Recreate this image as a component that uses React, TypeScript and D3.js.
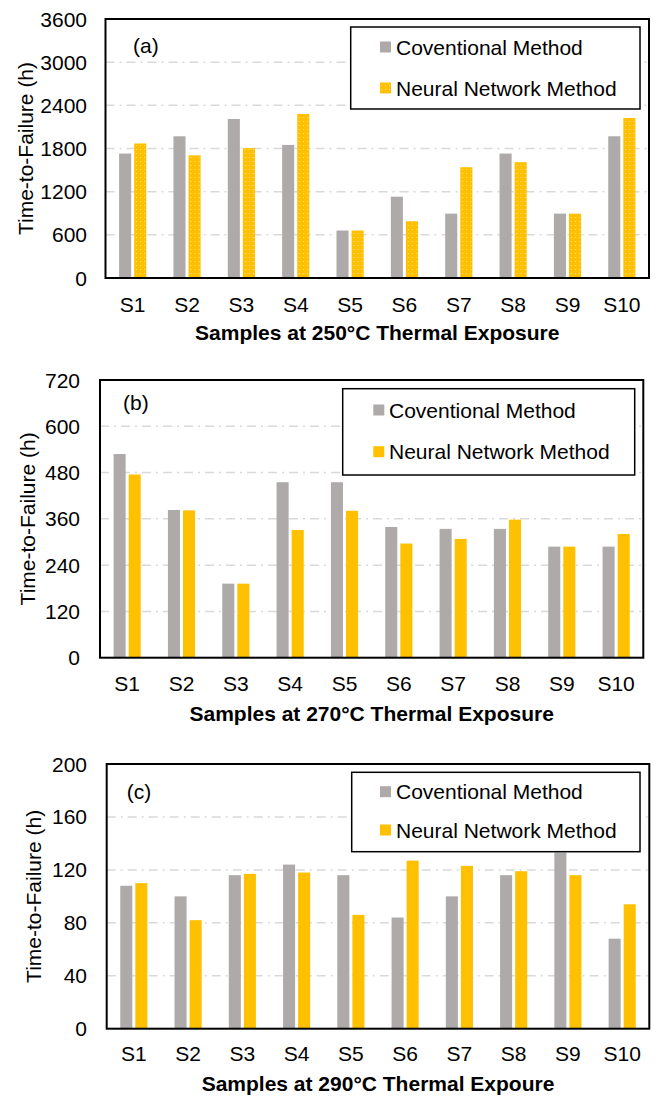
import React, { useEffect, useRef } from 'react';
import * as d3 from 'd3';

const samples = ['S1', 'S2', 'S3', 'S4', 'S5', 'S6', 'S7', 'S8', 'S9', 'S10'];
const seriesNames = ['Coventional Method', 'Neural Network Method'];

const conv250 = [1730, 1970, 2210, 1850, 660, 1130, 895, 1730, 895, 1970];
const nn250 = [1870, 1705, 1805, 2280, 660, 790, 1540, 1610, 895, 2225];
const ticks250 = [0, 600, 1200, 1800, 2400, 3000, 3600];

const conv270 = [528, 383, 192, 455, 455, 339, 334, 334, 288, 288];
const nn270 = [475, 382, 192, 331, 381, 296, 308, 358, 288, 321];
const ticks270 = [0, 120, 240, 360, 480, 600, 720];

const conv290 = [108, 100, 116, 124, 116, 84, 100, 116, 133, 68];
const nn290 = [110, 82, 117, 118, 86, 127, 123, 119, 116, 94];
const ticks290 = [0, 40, 80, 120, 160, 200];

const GREY = '#AEAAAA';
const GOLD = '#FFC000';
const FONT = '"Liberation Sans", Arial, Helvetica, sans-serif';
const FS = 21;

const panels = [
  {
    tag: '(a)', conv: conv250, nn: nn250, ticks: ticks250, dotted: true,
    xTitle: 'Samples at 250°C Thermal Exposure',
    left: 105.5, top: 19, right: 649, bottom: 278,
    legend: { x: 350.7, y: 27, w: 289.3, h: 82, sw: 380, tx: 396, rows: [47, 88] },
    tagPos: [133, 45], tickY: 304, titleY: 340, yLabX: 25, yTickX: 87,
  },
  {
    tag: '(b)', conv: conv270, nn: nn270, ticks: ticks270, dotted: false,
    xTitle: 'Samples at 270°C Thermal Exposure',
    left: 100, top: 380, right: 643.3, bottom: 657.7,
    legend: { x: 342.7, y: 388.7, w: 292, h: 86.3, sw: 373.3, tx: 389, rows: [410, 451.7] },
    tagPos: [123, 402.7], tickY: 683, titleY: 721, yLabX: 27, yTickX: 80,
  },
  {
    tag: '(c)', conv: conv290, nn: nn290, ticks: ticks290, dotted: false,
    xTitle: 'Samples at 290°C Thermal Expoure',
    left: 106.7, top: 764, right: 649.3, bottom: 1028.7,
    legend: { x: 351.7, y: 772.3, w: 288.3, h: 79.4, sw: 380, tx: 396, rows: [791.7, 830] },
    tagPos: [126.7, 791.7], tickY: 1053, titleY: 1091, yLabX: 33, yTickX: 87,
  },
];

function drawPanel(svg: any, p: any) {
  const g = svg.append('g');
  const y = d3.scaleLinear()
    .domain([0, d3.max(p.ticks) as number])
    .range([p.bottom, p.top]);
  const x0 = d3.scaleBand()
    .domain(samples)
    .range([p.left, p.right])
    .paddingInner(0.5)
    .paddingOuter(0.25);
  const x1 = d3.scaleBand()
    .domain(seriesNames)
    .range([0, x0.bandwidth()])
    .paddingInner(0.2);
  const goldFill = p.dotted ? 'url(#dots)' : GOLD;
  const color = d3.scaleOrdinal<string>().domain(seriesNames).range([GREY, goldFill]);

  // gridlines
  g.selectAll('line.grid')
    .data(p.ticks.filter((t: number) => t > 0 && t < (d3.max(p.ticks) as number)))
    .enter()
    .append('line')
    .attr('x1', p.left)
    .attr('x2', p.right)
    .attr('y1', (d: number) => y(d))
    .attr('y2', (d: number) => y(d))
    .attr('stroke', '#D9D9D9')
    .attr('stroke-width', 1.5)
    .attr('stroke-dasharray', '9,5,2,5');

  // bars
  const rows = samples.map((s, i) => ({ s, vals: [p.conv[i], p.nn[i]] }));
  const grp = g.selectAll('g.cat')
    .data(rows)
    .enter()
    .append('g')
    .attr('transform', (d: any) => 'translate(' + x0(d.s) + ',0)');
  grp.selectAll('rect')
    .data((d: any) => d.vals.map((v: number, k: number) => ({ name: seriesNames[k], v })))
    .enter()
    .append('rect')
    .attr('x', (d: any) => x1(d.name))
    .attr('width', x1.bandwidth())
    .attr('y', (d: any) => y(d.v))
    .attr('height', (d: any) => p.bottom - y(d.v))
    .attr('fill', (d: any) => color(d.name));

  // legend
  const L = p.legend;
  g.append('rect')
    .attr('x', L.x).attr('y', L.y).attr('width', L.w).attr('height', L.h)
    .attr('fill', '#fff').attr('stroke', '#000').attr('stroke-width', 1.5);
  seriesNames.forEach((name, k) => {
    g.append('rect')
      .attr('x', L.sw).attr('y', L.rows[k] - 5.5)
      .attr('width', 11).attr('height', 11)
      .attr('fill', color(name));
    g.append('text')
      .attr('x', L.tx).attr('y', L.rows[k])
      .attr('dominant-baseline', 'central')
      .attr('font-size', FS)
      .text(name);
  });

  // frame
  g.append('rect')
    .attr('x', p.left).attr('y', p.top)
    .attr('width', p.right - p.left).attr('height', p.bottom - p.top)
    .attr('fill', 'none').attr('stroke', '#000').attr('stroke-width', 2);

  // y ticks
  g.selectAll('text.yt')
    .data(p.ticks)
    .enter()
    .append('text')
    .attr('x', p.yTickX)
    .attr('y', (d: number) => y(d))
    .attr('text-anchor', 'end')
    .attr('dominant-baseline', 'central')
    .attr('font-size', FS)
    .text((d: number) => d);

  // x ticks
  g.selectAll('text.xt')
    .data(samples)
    .enter()
    .append('text')
    .attr('x', (d: string) => (x0(d) as number) + x0.bandwidth() / 2)
    .attr('y', p.tickY)
    .attr('text-anchor', 'middle')
    .attr('dominant-baseline', 'central')
    .attr('font-size', FS)
    .text((d: string) => d);

  g.append('text')
    .attr('x', (p.left + p.right) / 2)
    .attr('y', p.titleY)
    .attr('text-anchor', 'middle')
    .attr('font-size', FS)
    .attr('font-weight', 'bold')
    .text(p.xTitle);

  g.append('text')
    .attr('transform', 'translate(' + p.yLabX + ',' + (p.top + p.bottom) / 2 + ') rotate(-90)')
    .attr('text-anchor', 'middle')
    .attr('dominant-baseline', 'central')
    .attr('font-size', FS)
    .text('Time-to-Failure (h)');

  g.append('text')
    .attr('x', p.tagPos[0]).attr('y', p.tagPos[1])
    .attr('dominant-baseline', 'central')
    .attr('font-size', FS)
    .text(p.tag);
}

export default function App() {
  const ref = useRef<SVGSVGElement>(null);

  useEffect(() => {
    document.body.style.margin = '0';
    const svg = d3.select(ref.current);
    svg.selectAll('*').remove();

    const defs = svg.append('defs');
    const pat = defs.append('pattern')
      .attr('id', 'dots')
      .attr('patternUnits', 'userSpaceOnUse')
      .attr('width', 4).attr('height', 4);
    pat.append('rect').attr('width', 4).attr('height', 4).attr('fill', GOLD);
    pat.append('rect').attr('x', 1).attr('y', 1).attr('width', 1).attr('height', 1)
      .attr('fill', '#FFE08A');

    panels.forEach(p => drawPanel(svg, p));
  }, []);

  return (
    <svg ref={ref} width={659} height={1099}
      style={{ display: 'block', fontFamily: FONT, background: '#fff' }} />
  );
}
